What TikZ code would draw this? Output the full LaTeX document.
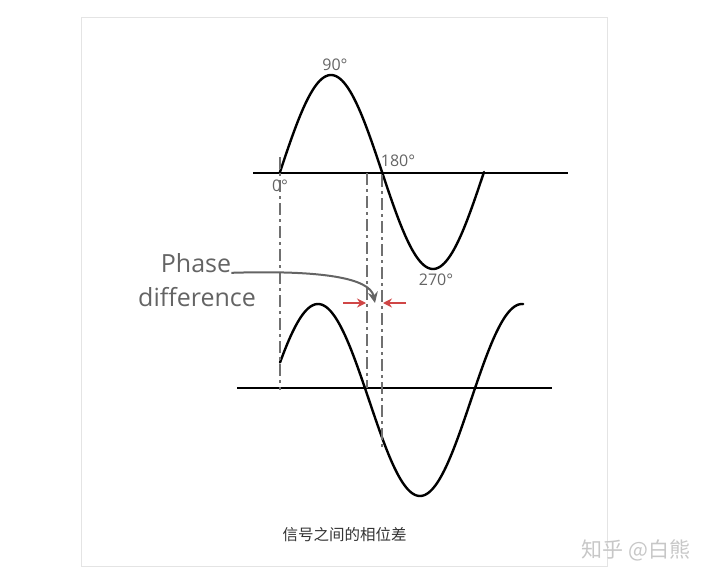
\documentclass[tikz,border=0pt]{standalone}
\usepackage{fontspec}
\setmainfont{Open Sans}
\newfontfamily\cjk{Noto Sans CJK SC}
\usetikzlibrary{arrows.meta, positioning}
\definecolor{gristexte}{HTML}{646464}
\definecolor{grisfilet}{HTML}{707070}
\definecolor{rougefleche}{HTML}{D04646}
\definecolor{griscadre}{HTML}{E4E4E4}

\begin{document}
\begin{tikzpicture}[x=1pt,y=-1pt,
  onde/.style={line width=2.4pt, line cap=round},
  axe/.style={line width=2pt},
  repere/.style={line width=2pt, draw=grisfilet, dash pattern=on 12pt off 4pt on 3pt off 4pt},
  degre/.style={font=\fontsize{16}{18}\selectfont, text=gristexte, inner sep=0pt},
  etiquette/.style={font=\fontsize{25}{30}\selectfont, text=gristexte, inner sep=0pt},
  ecart/.style={line width=1.8pt, draw=rougefleche, -{Stealth[length=9pt,width=9pt]}}]

\useasboundingbox (0,0) rectangle (709,583);
\draw[griscadre, line width=1pt] (81,18) rectangle (607,566);

%% ================= signal du haut =========================================
\draw[axe] (253,173) -- (568,173);
\draw[onde] plot[domain=0:360, samples=120, variable=\t] ({280+\t/360*204}, {172-97*sin(\t)});
\node[degre] (l90)  at (335,65)  {90°};
\node[degre] (l180) at (398,161) {180°};
\node[degre] (l0)   at (280,186) {0°};
\node[degre] (l270) at (436,280) {270°};

%% ================= signal du bas ==========================================
\draw[axe] (237,388) -- (552,388);
\draw[onde] plot[domain=23:452, samples=140, variable=\t] ({318+(\t-90)/180*102}, {400-96*sin(\t)});

%% ================= repères verticaux ======================================
\coordinate (r0h) at (280,157);  \coordinate (r0b) at (280,390);
\coordinate (r1h) at (367,173);  \coordinate (r1b) at (367,388);
\coordinate (r2h) at (382,175);  \coordinate (r2b) at (382,447);
\draw[repere] (r0h) -- (r0b);
\draw[repere] (r1h) -- (r1b);
\draw[repere] (r2h) -- (r2b);

%% ================= déphasage ==============================================
\coordinate (eg) at (343,303);  \coordinate (egp) at (366,303);
\coordinate (ed) at (406,303);  \coordinate (edp) at (383,303);
\draw[ecart] (eg) -- (egp);
\draw[ecart] (ed) -- (edp);

\node[etiquette] (phase) at (196,263) {Phase};
\node[etiquette] (diff)  at (197,297) {difference};
\coordinate (pointe) at (375,303);
\draw[line width=2pt, draw=gristexte, -{Stealth[length=11pt,width=10pt]}]
  (phase.south east) .. controls (322,270) and (370,278) .. (pointe);

%% ================= légende ================================================
\node[font=\cjk\fontsize{15.5}{18}\selectfont, text=black!80, inner sep=0pt] (legende) at (344.5,535) {信号之间的相位差};
\node[font=\cjk\fontsize{21}{24}\selectfont, text=black!22, inner sep=0pt] (filigrane) at (636,550) {知乎 @白熊};
\end{tikzpicture}
\end{document}
